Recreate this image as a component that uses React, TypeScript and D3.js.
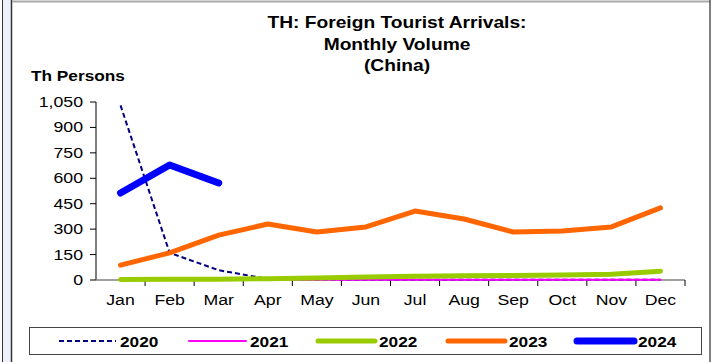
import React from "react";
import * as d3 from "d3";

const months = ["Jan", "Feb", "Mar", "Apr", "May", "Jun", "Jul", "Aug", "Sep", "Oct", "Nov", "Dec"];
const yTicks = [0, 150, 300, 450, 600, 750, 900, 1050];
const v2020 = [1030, 160, 58, 6, 2, 1, 1, 1, 1, 1, 1, 1];
const v2021 = [1, 1, 1, 1, 1, 1, 1, 1, 1, 1, 1, 1];
const v2022 = [3, 4, 5, 8, 12, 17, 22, 25, 27, 30, 34, 52];
const v2023 = [88, 160, 265, 330, 283, 313, 407, 360, 283, 289, 313, 425];
const v2024 = [513, 678, 572];

const series = [
  { name: "2020", values: v2020, color: "#000080", width: 2, dash: "5,3" },
  { name: "2021", values: v2021, color: "#FF00FF", width: 2, dash: "" },
  { name: "2022", values: v2022, color: "#99CC00", width: 5, dash: "" },
  { name: "2023", values: v2023, color: "#FF6600", width: 5, dash: "" },
  { name: "2024", values: v2024, color: "#0000FF", width: 7, dash: "" },
];

const SX = 1.18;

function T(props: {
  x: number;
  y: number;
  size: number;
  bold?: boolean;
  anchor?: "start" | "middle" | "end";
  sx?: number;
  children: React.ReactNode;
}) {
  const s = props.sx ?? SX;
  return (
    <text
      transform={`translate(${props.x},${props.y}) scale(${s},1)`}
      fontSize={props.size}
      fontWeight={props.bold ? "bold" : "normal"}
      textAnchor={props.anchor ?? "start"}
      fill="#000"
    >
      {props.children}
    </text>
  );
}

export default function App() {
  const W = 712, H = 362;
  const x0 = 96, x1 = 685, yTop = 102, yBot = 280;
  const x = d3.scaleBand<string>().domain(months).range([x0, x1]);
  const y = d3.scaleLinear().domain([0, 1050]).range([yBot, yTop]);
  const line = d3
    .line<number>()
    .x((_, i) => (x(months[i]) as number) + x.bandwidth() / 2)
    .y((d) => y(d));
  const font = "Arial, 'Liberation Sans', sans-serif";
  const legendX = [59, 189, 318, 448, 577];
  return (
    <svg width={W} height={H} style={{ position: "absolute", left: 0, top: 0 }} fontFamily={font}>
      <rect x={0} y={0} width={W} height={H} fill="#fff" />
      {/* left strip */}
      <rect x={3} y={0} width={8} height={H} fill="#eef0fa" />
      <line x1={2.5} y1={0} x2={2.5} y2={H} stroke="#333" strokeWidth={1} />
      <line x1={11.5} y1={0} x2={11.5} y2={H} stroke="#333" strokeWidth={1.5} />
      <line x1={12} y1={1.5} x2={710} y2={1.5} stroke="#aaa" strokeWidth={2} />
      <line x1={710} y1={0} x2={710} y2={H} stroke="#555" strokeWidth={1.5} />

      {/* title */}
      <T x={397} y={28} size={16} bold anchor="middle" sx={1.2}>TH: Foreign Tourist Arrivals:</T>
      <T x={397} y={50} size={16} bold anchor="middle" sx={1.2}>Monthly Volume</T>
      <T x={397} y={71} size={16} bold anchor="middle" sx={1.2}>(China)</T>
      <T x={31} y={81} size={15} bold sx={1.15}>Th Persons</T>

      {/* y axis */}
      <line x1={x0} y1={yTop} x2={x0} y2={yBot} stroke="#000" />
      {yTicks.map((t) => (
        <g key={t}>
          <line x1={x0 - 6} x2={x0} y1={y(t)} y2={y(t)} stroke="#000" />
          <T x={83} y={y(t) + 5} size={15} anchor="end">
            {d3.format(",")(t)}
          </T>
        </g>
      ))}
      {/* x axis */}
      <line x1={x0} x2={x1} y1={yBot} y2={yBot} stroke="#808080" strokeWidth={1.5} />
      {months.map((m) => (
        <g key={m}>
          <line
            x1={(x(m) as number) + x.bandwidth()}
            x2={(x(m) as number) + x.bandwidth()}
            y1={yBot}
            y2={yBot + 6}
            stroke="#000"
          />
          <T x={(x(m) as number) + x.bandwidth() / 2} y={305} size={15} anchor="middle">
            {m}
          </T>
        </g>
      ))}

      {/* lines */}
      {series.map((s) => (
        <path
          key={s.name}
          d={line(s.values) as string}
          fill="none"
          stroke={s.color}
          strokeWidth={s.width}
          strokeDasharray={s.dash || undefined}
          strokeLinejoin="round"
          strokeLinecap={s.dash ? "butt" : "round"}
        />
      ))}

      {/* legend */}
      <rect x={29.5} y={327.5} width={672} height={27} fill="#fff" stroke="#444" />
      {series.map((s, i) => (
        <g key={s.name}>
          <line
            x1={legendX[i]}
            x2={legendX[i] + 57}
            y1={341}
            y2={341}
            stroke={s.color}
            strokeWidth={s.width}
            strokeDasharray={s.dash || undefined}
            strokeLinecap={s.dash ? "butt" : "round"}
          />
          <T x={legendX[i] + 61} y={346.5} size={15} bold sx={1.15}>
            {s.name}
          </T>
        </g>
      ))}
    </svg>
  );
}
